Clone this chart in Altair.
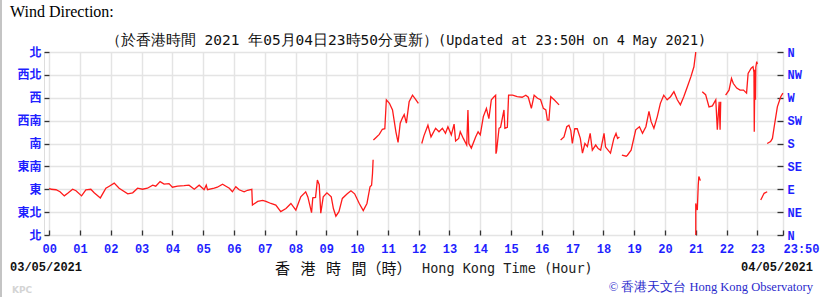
import altair as alt
import pandas as pd

# ---- data (hour of day, wind direction in degrees), split into drawn segments ----
seg1_h = [0.0, 0.06, 0.22, 0.35, 0.49, 0.6, 0.76, 0.87, 1.05, 1.19, 1.35, 1.46, 1.66, 1.84, 1.95, 2.11,
          2.27, 2.55, 2.71, 2.87, 3.03, 3.19, 3.36, 3.46, 3.6, 3.73, 3.89, 4.0, 4.17, 4.38, 4.54, 4.71,
          4.87, 4.98, 5.03, 5.1, 5.14, 5.36, 5.46, 5.63, 5.74, 5.85, 5.95, 6.06, 6.17, 6.33, 6.44, 6.58,
          6.6, 6.77, 6.93, 7.04, 7.2, 7.36, 7.52, 7.69, 7.85, 8.01, 8.17, 8.33, 8.4, 8.52, 8.56, 8.65,
          8.71, 8.77, 8.82, 8.9, 9.02, 9.16, 9.23, 9.31, 9.41, 9.52, 9.68, 9.8, 9.92, 10.07, 10.2, 10.32,
          10.42, 10.47, 10.5, 10.52]
seg1_d = [92, 90, 89, 85, 77, 82, 90, 87, 77, 89, 90, 83, 73, 92, 96, 102,
          92, 81, 83, 92, 90, 92, 98, 96, 105, 100, 101, 94, 96, 97, 98, 90,
          98, 92, 89, 98, 89, 92, 94, 100, 96, 92, 85, 95, 89, 85, 88, 90,
          59, 66, 68, 66, 62, 59, 46, 52, 62, 49, 75, 85, 75, 44, 73, 74,
          108, 99, 43, 75, 83, 75, 52, 37, 46, 72, 81, 87, 81, 62, 48, 62,
          95, 98, 121, 148]
seg2_h = [10.53, 10.6, 10.72, 10.82, 10.9, 10.95, 11.05, 11.15, 11.26, 11.33, 11.4, 11.47, 11.53, 11.6,
          11.69, 11.8, 11.9, 11.99]
seg2_d = [187, 191, 198, 208, 209, 266, 259, 246, 203, 182, 220, 230, 237, 220, 262, 275, 267, 259]
seg3_h = [12.1, 12.17, 12.3, 12.4, 12.55, 12.66, 12.77, 12.87, 12.95, 13.06, 13.15, 13.2, 13.3, 13.35,
          13.45, 13.56, 13.6, 13.63, 13.71, 13.85, 13.93, 14.0, 14.1, 14.2, 14.28, 14.36, 14.45, 14.5,
          14.51, 14.53, 14.61, 14.66, 14.77, 14.8, 14.88, 14.92, 15.05, 15.2, 15.36, 15.48, 15.56, 15.66,
          15.75, 15.86, 15.96, 16.05, 16.13, 16.18, 16.23, 16.29, 16.4, 16.56]
seg3_d = [180, 195, 216, 193, 210, 203, 210, 200, 213, 197, 218, 185, 190, 203,
          190, 177, 246, 180, 171, 193, 203, 197, 233, 249, 229, 266, 272, 275,
          160, 165, 210, 212, 246, 210, 212, 275, 275, 272, 271, 275, 271, 249,
          275, 269, 266, 249, 246, 226, 226, 272, 266, 256]
seg4_h = [16.61, 16.72, 16.81, 16.88, 16.94, 16.99, 17.07, 17.15, 17.25, 17.32, 17.4, 17.48, 17.57,
          17.64, 17.75, 17.83, 17.91, 18.02, 18.07, 18.23, 18.34, 18.41, 18.46, 18.52]
seg4_d = [187, 193, 213, 216, 206, 180, 209, 209, 190, 161, 180, 174, 200,
          167, 177, 170, 167, 200, 173, 161, 190, 200, 190, 193]
seg5_h = [18.6, 18.74, 18.78, 18.9, 19.05, 19.17, 19.27, 19.38, 19.48, 19.55, 19.64, 19.75, 19.85,
          19.96, 20.07, 20.18, 20.29, 20.4, 20.5, 20.61, 20.73, 20.84, 20.94, 21.0]
seg5_d = [157, 155, 157, 167, 207, 213, 200, 213, 243, 223, 210, 233, 259,
          275, 266, 272, 282, 266, 256, 272, 292, 311, 331, 360]
seg6_h = [21.0, 21.0, 21.05, 21.08, 21.1, 21.15]
seg6_d = [0, 62, 49, 98, 115, 107]
seg7_h = [21.21, 21.32, 21.43, 21.54, 21.65, 21.7, 21.76, 21.79, 21.81]
seg7_d = [282, 276, 252, 254, 266, 207, 262, 207, 262]
seg8_h = [21.97, 22.08, 22.16, 22.22, 22.33, 22.44, 22.55, 22.65, 22.7, 22.8, 22.86, 22.89, 22.9,
          22.92, 22.94, 22.95, 22.98, 23.0]
seg8_d = [275, 285, 308, 298, 289, 285, 285, 279, 318, 328, 331, 320, 203,
          325, 266, 330, 341, 336]
seg9_h = [23.11, 23.22, 23.32]
seg9_d = [69, 82, 85]
seg10_h = [23.32, 23.43, 23.49, 23.54, 23.65, 23.76, 23.83]
seg10_d = [180, 184, 190, 210, 252, 272, 279]

x_tick_values = list(range(24)) + [23 + 50 / 60]
x_tick_labels = ["00", "01", "02", "03", "04", "05", "06", "07", "08", "09", "10", "11", "12",
                 "13", "14", "15", "16", "17", "18", "19", "20", "21", "22", "23", "23:50"]
y_tick_values = [0, 45, 90, 135, 180, 225, 270, 315, 360]
y_labels_zh = ["北", "東北", "東", "東南", "南", "西南", "西", "西北", "北"]
y_labels_en = ["N", "NE", "E", "SE", "S", "SW", "W", "NW", "N"]

segments = [(seg1_h, seg1_d), (seg2_h, seg2_d), (seg3_h, seg3_d), (seg4_h, seg4_d), (seg5_h, seg5_d),
            (seg6_h, seg6_d), (seg7_h, seg7_d), (seg8_h, seg8_d), (seg9_h, seg9_d), (seg10_h, seg10_d)]
rows = []
i = 0
for s, (hs, ds) in enumerate(segments):
    for h, d in zip(hs, ds):
        rows.append({"hour": h, "deg": d, "seg": s, "i": i})
        i += 1
df = pd.DataFrame(rows)

BLUE = "#1f1fff"
W, H = 739, 183


def js_list(lst):
    return "[" + ",".join("'" + v + "'" for v in lst) + "]"


x_scale = alt.Scale(domain=[-0.17, 23 + 50 / 60], nice=False, zero=False)
y_scale = alt.Scale(domain=[0, 360], nice=False, zero=False)

x_axis = alt.Axis(values=x_tick_values, labelExpr=js_list(x_tick_labels) + "[round(datum.value)]",
                  title=None, grid=True, gridColor="#e4e4e4", gridWidth=1.5, domain=False,
                  ticks=True, tickSize=5, tickColor="#333", tickWidth=1.3, offset=-5,
                  labelPadding=8, labelFont="Liberation Mono", labelFontWeight="bold",
                  labelFontSize=12, labelColor=BLUE, labelAngle=0, labelOverlap=False,
                  labelAlign={"condition": {"test": "datum.value > 23.5", "value": "left"},
                              "value": "center"})
y_axis_left = alt.Axis(values=y_tick_values, labelExpr=js_list(y_labels_zh) + "[round(datum.value/45)]",
                       title=None, grid=True, gridColor="#e4e4e4", gridWidth=1.5, domain=False,
                       ticks=True, tickSize=5, tickColor="#333", tickWidth=1.3, offset=-5,
                       labelPadding=3, labelFont="Noto Sans CJK TC", labelFontWeight="bold",
                       labelFontSize=12, labelColor=BLUE, labelOverlap=False)
y_axis_right = alt.Axis(values=y_tick_values, labelExpr=js_list(y_labels_en) + "[round(datum.value/45)]",
                        orient="right", title=None, grid=False, domain=False,
                        ticks=True, tickSize=6, tickColor="#333", tickWidth=1.3, offset=-6,
                        labelPadding=4, labelFont="Liberation Mono", labelFontWeight="bold",
                        labelFontSize=12, labelColor=BLUE, labelOverlap=False)

base = alt.Chart(df)
line = base.mark_line(color="#ff1a1a", strokeWidth=1.3).encode(
    x=alt.X("hour:Q", scale=x_scale, axis=x_axis),
    y=alt.Y("deg:Q", scale=y_scale, axis=y_axis_left),
    detail="seg:N",
    order="i:Q",
)
line_r = base.mark_line(opacity=0).encode(
    x=alt.X("hour:Q", scale=x_scale, axis=x_axis),
    y=alt.Y("deg:Q", scale=y_scale, axis=y_axis_right),
    detail="seg:N",
    order="i:Q",
)


def txt(text, x, y, **kw):
    return alt.Chart(pd.DataFrame({"t": [text]})).mark_text(**kw).encode(
        text="t:N", x=alt.value(x), y=alt.value(y))


texts = [
    txt("Wind Direction:", -34, -35, align="left", baseline="alphabetic", font="Liberation Serif",
        fontSize=16, color="#000"),
    txt("（於香港時間 2021 年05月04日23時50分更新）", 394, -7,
        align="right", baseline="alphabetic", font="DejaVu Sans Mono", fontSize=14.5, color="#111"),
    txt("(Updated at 23:50H on 4 May 2021)", 394, -7,
        align="left", baseline="alphabetic", font="DejaVu Sans Mono", fontSize=13.5, color="#111"),
    txt("03/05/2021", -34, 219, align="left", baseline="alphabetic", font="Liberation Mono",
        fontWeight="bold", fontSize=12, color="#111"),
    txt("04/05/2021", 769, 219, align="right", baseline="alphabetic", font="Liberation Mono",
        fontWeight="bold", fontSize=12, color="#111"),
    txt("香\u2002\u2009港\u2002\u2009時\u2002\u2009間（時）", 231, 222, align="left",
        baseline="alphabetic", font="Noto Sans CJK TC", fontSize=15, color="#111"),
    txt("Hong Kong Time (Hour)", 378, 221, align="left", baseline="alphabetic", font="DejaVu Sans Mono",
        fontSize=13.5, color="#222"),
    txt("© 香港天文台 Hong Kong Observatory", 769, 239, align="right", baseline="alphabetic",
        font="Liberation Serif", fontSize=12.5, color="#2a2acc"),
    txt("KPC", -32, 241, align="left", baseline="alphabetic", font="DejaVu Sans", fontWeight="bold",
        fontSize=9, color="#d4d4d4"),
]

border = alt.Chart(pd.DataFrame({"k": [0]})).mark_rule(color="#c4c4c4", strokeWidth=2).encode(
    x=alt.value(-43), y=alt.value(-52), y2=alt.value(245))

chart = alt.layer(line, line_r, border, *texts).resolve_scale(y="independent").properties(
    width=W, height=H,
    autosize=alt.AutoSizeParams(type="none"),
    padding={"left": 44, "top": 52, "right": 37, "bottom": 62},
).configure_view(stroke="#333", strokeWidth=1.5).configure(background="white")

chart.save("out.html", embed_options={"renderer": "svg", "actions": False})
